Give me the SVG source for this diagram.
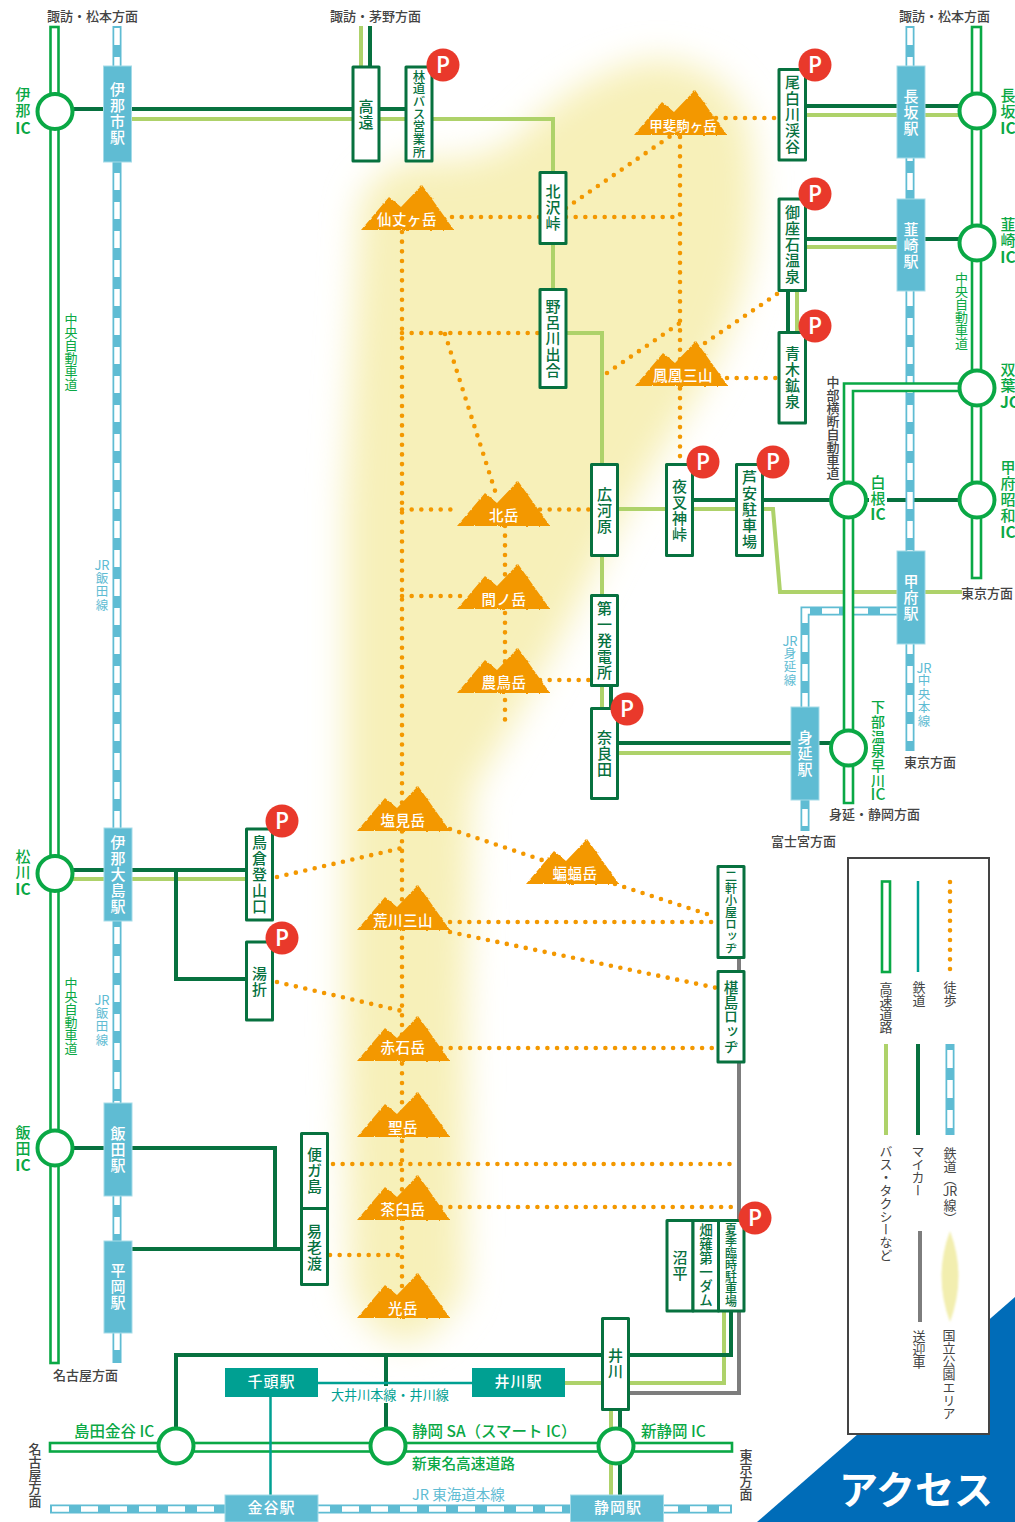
<svg xmlns="http://www.w3.org/2000/svg" width="1015" height="1522" viewBox="0 0 1015 1522">
<style>
text{font-family:"Noto Sans CJK JP","Noto Sans",sans-serif}
.v{writing-mode:vertical-rl;text-anchor:middle}
.box{fill:#fff;stroke:#07713f;stroke-width:3;stroke-linejoin:round}
.nt{fill:#07713f;font-size:15px;letter-spacing:1px;font-weight:500}
.st{fill:#5fbcd3;stroke:#a5dbe8;stroke-width:1}
.stt{fill:#fff;font-size:15px;letter-spacing:1px;font-weight:500}
.car{fill:none;stroke:#07713f;stroke-width:4}
.bus{fill:none;stroke:#aed26a;stroke-width:4}
.van{fill:none;stroke:#7d7d7d;stroke-width:4}
.teal{fill:none;stroke:#00a092;stroke-width:2.5}
.walk{fill:none;stroke:#f39800;stroke-width:4.6;stroke-linecap:round;stroke-dasharray:0 9.67}
.jro{fill:none;stroke:#5fbcd3;stroke-width:9}
.jri{fill:none;stroke:#fff;stroke-width:5.5;stroke-dasharray:17 12}
.exp{fill:#fff;stroke:#0aa845;stroke-width:2.6}
.ic{fill:#fff;stroke:#0aa845;stroke-width:4}
.icl{fill:#0aa845;font-size:15px;letter-spacing:1px;font-weight:500}
.b{fill:#0aa845;font-size:15.5px;font-weight:700;text-anchor:middle}
.eg{fill:#0aa845;font-size:15.5px;font-weight:500}
.sg{fill:#0aa845;font-size:13px}
.jl{fill:#5fbcd3;font-size:12.5px;letter-spacing:1px}
.jr{fill:#5fbcd3;font-size:13px;text-anchor:middle}
.dir{fill:#444;font-size:13px;font-weight:500}
.leg{fill:#444;font-size:13px}
.mt{fill:#fff;font-size:14.5px;letter-spacing:.5px;font-weight:500;text-anchor:middle}
.pc{fill:#e9392b}
.pt{fill:#fff;font-family:"Open Sans","Noto Sans",sans-serif;font-size:23px;font-weight:600;text-anchor:middle}
</style>
<defs>
<filter id="blur" filterUnits="userSpaceOnUse" x="0" y="0" width="1015" height="1522"><feGaussianBlur stdDeviation="17"/></filter>
<filter id="blur2" filterUnits="userSpaceOnUse" x="900" y="1200" width="100" height="150"><feGaussianBlur stdDeviation="1"/></filter>
<filter id="rough" x="-5%" y="-5%" width="110%" height="110%"><feTurbulence type="fractalNoise" baseFrequency="0.25" numOctaves="2" seed="3"/><feDisplacementMap in="SourceGraphic" scale="2.5" xChannelSelector="R" yChannelSelector="G"/></filter>
<polygon id="mtn" points="0,45 28,12 40,22 61,0 93,45" fill="#f39800" filter="url(#rough)"/>
</defs>
<rect width="1015" height="1522" fill="#fff"/>
<path id="park" d="M360 205 Q375 165 425 160 Q475 165 515 140 Q575 75 650 60 Q725 60 748 125 Q760 190 748 265 Q732 345 680 420 Q630 500 595 570 Q535 690 472 790 L466 1000 L464 1290 Q435 1342 405 1342 Q372 1342 350 1290 L345 1000 L345 500 Z" fill="#f7f0b9" filter="url(#blur)"/>
<polygon id="corner" points="757,1522 1015,1297 1015,1522" fill="#006cb8"/>

<g id="connectors">
<path class="bus" d="M361 26V66M131 119H553V289M566 333H602V708M618 509H773L780 592H962M806 115H960M806 247H897M797 291V332M618 753H791M70 879H246M565 1383H724V1311M611 1410V1495"/>
<path class="car" d="M370 26V66M72 109H405M806 106H960M806 239H960M788 291V332M693 500H960M611 686V708M618 743H831M72 870H246M176 870V979H246M72 1148H275V1249M131 1249H301M176 1430V1355H731V1311M386 1355V1430M620 1410V1495"/>
<path class="van" d="M739 957V971M739 1062V1393H628"/>
<path class="walk" d="M402 232V1290M452 217H540M566 217H680M716 118H778M566 208L672 135M680 137V464M607 373L680 323M705 343L780 292M727 378H778M402 333H540M445 334L497 497M402 509.5H457M540 509.5H591M505 526V720M402 596H465M540 680H591M450 829L542 860M615 884L716 917M450 922H718M450 932L717 988M441 1048H718M277 877L402 848M277 982L402 1011M333 1164H738M402 1207H738M330 1255H402"/>
<path class="jro" d="M117 26V1363M910 26V751M897 611H805V831M50 1509H732"/>
<path class="jri" d="M117 28V1361M910 28V749M897 611H805V829M52 1509H730"/>
<rect class="exp" x="50.5" y="27" width="8" height="1336"/>
<rect class="exp" x="972" y="27" width="9" height="551"/>
<path class="exp" d="M977 383.5H844V803H853V391H977Z"/>
<rect class="exp" x="50" y="1443" width="682" height="8.5"/>
<path class="teal" d="M318 1383H472M270.5 1397V1495"/>
</g>

<g id="ic-ina"><circle class="ic" cx="55" cy="111.500" r="17.500"/><text class="v icl" x="23" y="103">伊那</text><text class="b" x="23" y="134">IC</text></g>
<g id="ic-matsukawa"><circle class="ic" cx="55" cy="873.500" r="17.500"/><text class="v icl" x="23" y="865">松川</text><text class="b" x="23" y="895">IC</text></g>
<g id="ic-iida"><circle class="ic" cx="55" cy="1148" r="17.500"/><text class="v icl" x="23" y="1141">飯田</text><text class="b" x="23" y="1171">IC</text></g>
<g id="ic-nagasaka"><circle class="ic" cx="977" cy="111" r="17.500"/><text class="v icl" x="1008" y="103.500">長坂</text><text class="b" x="1008" y="134">IC</text></g>
<g id="ic-nirasaki"><circle class="ic" cx="977" cy="243" r="17.500"/><text class="v icl" x="1008" y="233">韮崎</text><text class="b" x="1008" y="263">IC</text></g>
<g id="ic-futaba"><circle class="ic" cx="977" cy="388" r="17.500"/><text class="v icl" x="1008" y="378">双葉</text><text x="1000" y="408" style="fill:#0aa845;font-size:15.500px;font-weight:700">JCT</text></g>
<g id="ic-kofushowa"><circle class="ic" cx="977" cy="500" r="17.500"/><text class="v icl" x="1008" y="492">甲府昭和</text><text class="b" x="1008" y="538">IC</text></g>
<g id="ic-shirane"><circle class="ic" cx="848.500" cy="500" r="17.500"/><rect x="869" y="490" width="18" height="20" fill="#fff"/><text class="v icl" x="878" y="491">白根</text><text class="b" x="878" y="520">IC</text></g>
<g id="ic-shimobe"><circle class="ic" cx="848.500" cy="748" r="17.500"/><text class="v icl" style="font-size:14px;letter-spacing:.7px" x="878" y="744">下部温泉早川</text><text class="b" style="font-weight:500" x="878" y="800">IC</text></g>
<g id="ic-shimada"><circle class="ic" cx="176" cy="1446" r="17.500"/><text class="eg" x="74" y="1437">島田金谷 IC</text></g>
<g id="ic-shizuokasa"><circle class="ic" cx="388" cy="1446" r="17.500"/><text class="eg" x="412" y="1437">静岡 SA（スマート IC）</text></g>
<g id="ic-shinshizuoka"><circle class="ic" cx="616" cy="1446" r="17.500"/><text class="eg" x="641" y="1437">新静岡 IC</text></g>

<g id="st-inashi"><rect class="st" x="103.500" y="66" width="28" height="96"/><text class="v stt" x="117.500" y="114">伊那市駅</text></g>
<g id="st-inaoshima"><rect class="st" x="104" y="828" width="28" height="93"/><text class="v stt" x="118" y="875">伊那大島駅</text></g>
<g id="st-iida"><rect class="st" x="104" y="1103" width="28" height="93"/><text class="v stt" x="118" y="1150">飯田駅</text></g>
<g id="st-hiraoka"><rect class="st" x="104" y="1241" width="28" height="92"/><text class="v stt" x="118" y="1287">平岡駅</text></g>
<g id="st-nagasaka"><rect class="st" x="897" y="66" width="28" height="92"/><text class="v stt" x="911" y="113">長坂駅</text></g>
<g id="st-nirasaki"><rect class="st" x="897" y="199" width="28" height="92"/><text class="v stt" x="911" y="246">韮崎駅</text></g>
<g id="st-kofu"><rect class="st" x="897" y="551" width="28" height="93"/><text class="v stt" x="911" y="598">甲府駅</text></g>
<g id="st-minobu"><rect class="st" x="791" y="707" width="28" height="93"/><text class="v stt" x="805" y="754">身延駅</text></g>
<g id="st-kanaya"><rect class="st" x="225" y="1495" width="93" height="27"/><text class="stt" x="271.500" y="1513" text-anchor="middle">金谷駅</text></g>
<g id="st-shizuoka"><rect class="st" x="570.500" y="1495" width="93" height="27"/><text class="stt" x="618" y="1513" text-anchor="middle">静岡駅</text></g>
<g id="st-senzu"><rect x="225" y="1368" width="93" height="29" fill="#00a092"/><text class="stt" x="271.500" y="1387" text-anchor="middle">千頭駅</text></g>
<g id="st-ikawa"><rect x="472" y="1368" width="93" height="29" fill="#00a092"/><text class="stt" x="518.500" y="1387" text-anchor="middle">井川駅</text></g>

<g id="m-senjo"><use href="#mtn" x="361" y="185"/><text class="mt" x="407" y="225">仙丈ヶ岳</text></g>
<g id="m-kaikoma"><use href="#mtn" x="634" y="90"/><text class="mt" style="font-size:13.500px;letter-spacing:0" x="683" y="131">甲斐駒ヶ岳</text></g>
<g id="m-hoo"><use href="#mtn" x="635" y="341"/><text class="mt" x="683" y="381">鳳凰三山</text></g>
<g id="m-kita"><use href="#mtn" x="457" y="481"/><text class="mt" x="504" y="521">北岳</text></g>
<g id="m-aino"><use href="#mtn" x="457" y="564"/><text class="mt" x="504" y="605">間ノ岳</text></g>
<g id="m-notori"><use href="#mtn" x="457" y="648"/><text class="mt" x="504" y="688">農鳥岳</text></g>
<g id="m-shiomi"><use href="#mtn" x="357" y="786"/><text class="mt" x="403" y="826">塩見岳</text></g>
<g id="m-komori"><use href="#mtn" x="526" y="839"/><text class="mt" x="575" y="879">蝙蝠岳</text></g>
<g id="m-arakawa"><use href="#mtn" x="357" y="885"/><text class="mt" x="403" y="926">荒川三山</text></g>
<g id="m-akaishi"><use href="#mtn" x="357" y="1016"/><text class="mt" x="403" y="1053">赤石岳</text></g>
<g id="m-hijiri"><use href="#mtn" x="357" y="1092"/><text class="mt" x="403" y="1133">聖岳</text></g>
<g id="m-chausu"><use href="#mtn" x="357" y="1175"/><text class="mt" x="403" y="1215">茶臼岳</text></g>
<g id="m-hikari"><use href="#mtn" x="357" y="1273"/><text class="mt" x="403" y="1314">光岳</text></g>

<g id="n-takato"><rect class="box" x="353" y="67" width="26" height="94"/><text class="v nt" x="366" y="115">高遠</text></g>
<g id="n-rindo"><rect class="box" x="406" y="67" width="26" height="94"/><text class="v nt" style="font-size:12.500px;letter-spacing:.2px" x="419" y="114">林道バス営業所</text></g>
<g id="n-ojira"><rect class="box" x="779" y="69.500" width="26.500" height="90.500"/><text class="v nt" x="792.500" y="115">尾白川渓谷</text></g>
<g id="n-gozaishi"><rect class="box" x="779" y="199" width="26.500" height="91.500"/><text class="v nt" x="792.500" y="245">御座石温泉</text></g>
<g id="n-aoki"><rect class="box" x="779" y="332.500" width="26.500" height="90.500"/><text class="v nt" x="792.500" y="378">青木鉱泉</text></g>
<g id="n-kitazawa"><rect class="box" x="540" y="172.500" width="26" height="71"/><text class="v nt" x="553" y="208">北沢峠</text></g>
<g id="n-norokawa"><rect class="box" x="540" y="289.500" width="26" height="98"/><text class="v nt" x="553" y="339">野呂川出合</text></g>
<g id="n-hirogawara"><rect class="box" x="591.500" y="464.500" width="26" height="91"/><text class="v nt" x="604.500" y="511">広河原</text></g>
<g id="n-daiichi"><rect class="box" x="591.500" y="595.500" width="26" height="90"/><text class="v nt" x="604.500" y="641">第一発電所</text></g>
<g id="n-narada"><rect class="box" x="591.500" y="708.500" width="26" height="90"/><text class="v nt" x="604.500" y="754">奈良田</text></g>
<g id="n-yasha"><rect class="box" x="666.500" y="464.500" width="26" height="91"/><text class="v nt" x="679.500" y="511">夜叉神峠</text></g>
<g id="n-ashiyasu"><rect class="box" x="736.500" y="464.500" width="26" height="91"/><text class="v nt" x="749.500" y="510">芦安駐車場</text></g>
<g id="n-torikura"><rect class="box" x="246.500" y="829" width="26" height="91"/><text class="v nt" x="259.500" y="875">鳥倉登山口</text></g>
<g id="n-yuori"><rect class="box" x="246.500" y="942" width="26" height="78"/><text class="v nt" x="259.500" y="982">湯折</text></g>
<g id="n-benga"><rect class="box" x="301.500" y="1133.500" width="26" height="75"/><text class="v nt" x="314.500" y="1171">便ガ島</text></g>
<g id="n-eroda"><rect class="box" x="301.500" y="1208.500" width="26" height="76"/><text class="v nt" x="314.500" y="1248">易老渡</text></g>
<g id="n-nikenya"><rect class="box" x="718" y="866.500" width="26" height="91"/><text class="v nt" style="font-size:12px;letter-spacing:0" x="731" y="912">二軒小屋ロッヂ</text></g>
<g id="n-sawarajima"><rect class="box" x="718" y="971.500" width="26" height="90.500"/><text class="v nt" style="font-size:14.500px;letter-spacing:.2px" x="731" y="1017">椹島ロッヂ</text></g>
<g id="n-numadaira"><rect class="box" x="667" y="1220.500" width="26" height="90.500"/><text class="v nt" x="680" y="1266">沼平</text></g>
<g id="n-hatanagi"><rect class="box" x="693" y="1220.500" width="25.500" height="90.500"/><text class="v nt" style="font-size:13.500px;letter-spacing:.5px" x="706" y="1265">畑薙第一ダム</text></g>
<g id="n-kaki"><rect class="box" x="718.500" y="1220.500" width="25.500" height="90.500"/><text class="v nt" style="font-size:12px;letter-spacing:0" x="731" y="1265">夏季臨時駐車場</text></g>
<g id="n-ikawa"><rect class="box" x="602.500" y="1318.500" width="26" height="91"/><text class="v nt" x="615.500" y="1364">井川</text></g>

<g id="parking">
<circle class="pc" cx="443" cy="65" r="16.500"/><text class="pt" x="443" y="73">P</text>
<circle class="pc" cx="815" cy="65" r="16.500"/><text class="pt" x="815" y="73">P</text>
<circle class="pc" cx="815" cy="194" r="16.500"/><text class="pt" x="815" y="202">P</text>
<circle class="pc" cx="815" cy="326" r="16.500"/><text class="pt" x="815" y="334">P</text>
<circle class="pc" cx="703" cy="462" r="16.500"/><text class="pt" x="703" y="470">P</text>
<circle class="pc" cx="773" cy="462" r="16.500"/><text class="pt" x="773" y="470">P</text>
<circle class="pc" cx="627" cy="709" r="16.500"/><text class="pt" x="627" y="717">P</text>
<circle class="pc" cx="282" cy="821" r="16.500"/><text class="pt" x="282" y="829">P</text>
<circle class="pc" cx="282" cy="938" r="16.500"/><text class="pt" x="282" y="946">P</text>
<circle class="pc" cx="755" cy="1218" r="16.500"/><text class="pt" x="755" y="1226">P</text>
</g>

<g id="labels">
<text class="dir" x="47" y="21">諏訪・松本方面</text>
<text class="dir" x="330" y="21">諏訪・茅野方面</text>
<text class="dir" x="899" y="21">諏訪・松本方面</text>
<text class="dir" x="961" y="598">東京方面</text>
<text class="dir" x="904" y="767">東京方面</text>
<text class="dir" x="829" y="819">身延・静岡方面</text>
<text class="dir" x="771" y="846">富士宮方面</text>
<text class="dir" x="53" y="1380">名古屋方面</text>
<text class="v dir" x="35" y="1475">名古屋方面</text>
<text class="v dir" x="746" y="1475">東京方面</text>
<text class="v dir" x="833" y="428">中部横断自動車道</text>
<text class="v sg" x="71" y="352">中央自動車道</text>
<text class="v sg" x="71" y="1016">中央自動車道</text>
<text class="v sg" x="961.500" y="311">中央自動車道</text>
<text class="jr" x="102" y="570">JR</text><text class="v jl" x="102" y="592">飯田線</text>
<text class="jr" x="102" y="1005">JR</text><text class="v jl" x="102" y="1027">飯田線</text>
<text class="jr" x="790" y="646">JR</text><text class="v jl" x="790" y="667">身延線</text>
<text class="jr" x="924" y="673">JR</text><text class="v jl" x="924" y="701">中央本線</text>
<rect x="330" y="1386" width="120" height="17" fill="#fff"/>
<text x="331" y="1400" style="fill:#00a092;font-size:13.100px">大井川本線・井川線</text>
<text class="eg" x="412" y="1469" style="font-size:14.700px">新東名高速道路</text>
<text x="412" y="1500" style="fill:#5fbcd3;font-size:14.500px">JR 東海道本線</text>
</g>

<g id="legend">
<rect x="848" y="858" width="141" height="576" fill="#fff" stroke="#444" stroke-width="2"/>
<rect class="exp" x="882" y="881.500" width="8" height="90.500"/>
<path class="teal" d="M918 881V972"/>
<path class="walk" d="M950 882V972"/>
<path class="bus" d="M886 1044V1135"/>
<path class="car" d="M918 1044V1135"/>
<path class="jro" d="M950 1044V1135"/>
<path class="jri" d="M950 1050V1135" style="stroke-dasharray:18 12"/>
<path class="van" d="M920 1231V1322"/>
<path d="M950 1231Q967 1276 950 1322Q933 1276 950 1231Z" fill="#f2eeaf" filter="url(#blur2)"/>
<text class="v leg" x="886" y="1008">高速道路</text>
<text class="v leg" x="919" y="994">鉄道</text>
<text class="v leg" x="950" y="994">徒歩</text>
<text class="v leg" x="886" y="1203">バス・タクシーなど</text>
<text class="v leg" x="918" y="1171">マイカー</text>
<text class="v leg" x="950" y="1166.500">鉄道（</text>
<text class="leg" x="950" y="1196" text-anchor="middle" style="font-size:12.500px">JR</text>
<text class="v leg" x="950" y="1212">線）</text>
<text class="v leg" x="919" y="1349">送迎車</text>
<text class="v leg" x="949" y="1374">国立公園エリア</text>
</g>
<text id="title" x="839" y="1504" style="fill:#fff;font-size:39px;font-weight:700">アクセス</text>
</svg>
